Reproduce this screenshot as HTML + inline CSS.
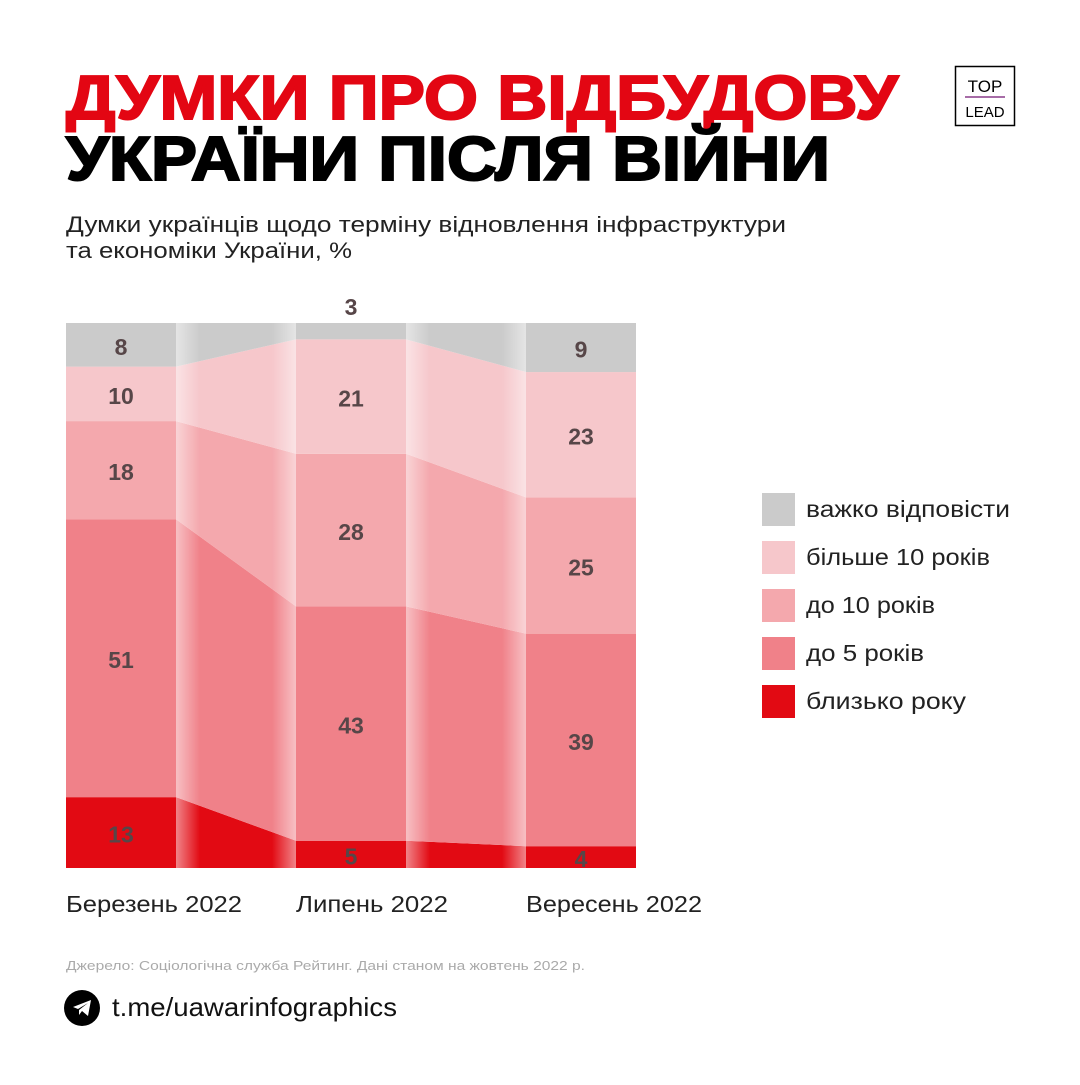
<!DOCTYPE html>
<html><head><meta charset="utf-8"><style>
body{margin:0;background:#fff;}
svg text{font-family:"Liberation Sans",sans-serif;}
</style></head><body>
<svg width="1080" height="1080" viewBox="0 0 1080 1080" xmlns="http://www.w3.org/2000/svg">
<defs>
<linearGradient id="shine" x1="0" x2="1" y1="0" y2="0">
<stop offset="0" stop-color="#fff" stop-opacity="0.5"/>
<stop offset="0.2" stop-color="#fff" stop-opacity="0"/>
<stop offset="0.8" stop-color="#fff" stop-opacity="0"/>
<stop offset="1" stop-color="#fff" stop-opacity="0.5"/>
</linearGradient>
</defs>
<text x="66" y="119" font-size="62" font-weight="900" fill="#e30613" textLength="832" lengthAdjust="spacingAndGlyphs" stroke="#e30613" stroke-width="2">ДУМКИ ПРО ВІДБУДОВУ</text>
<text x="66" y="180" font-size="62" font-weight="900" fill="#000" textLength="764" lengthAdjust="spacingAndGlyphs" stroke="#000" stroke-width="2">УКРАЇНИ ПІСЛЯ ВІЙНИ</text>
<g>
<rect x="955.5" y="66.5" width="59" height="59" fill="none" stroke="#000" stroke-width="1.5"/>
<text x="985" y="92" font-size="17" text-anchor="middle" fill="#000">TOP</text>
<line x1="965" y1="97" x2="1005" y2="97" stroke="#8a3c8a" stroke-width="1.5"/>
<text x="985" y="117" font-size="15" text-anchor="middle" fill="#000">LEAD</text>
</g>
<text x="66" y="232" font-size="22" fill="#222" textLength="720" lengthAdjust="spacingAndGlyphs">Думки українців щодо терміну відновлення інфраструктури</text>
<text x="66" y="258" font-size="22" fill="#222" textLength="286" lengthAdjust="spacingAndGlyphs">та економіки України, %</text>
<g id="chart"></g>
<g id="legend"></g>
<text x="66" y="970" font-size="13" fill="#aaa" textLength="519" lengthAdjust="spacingAndGlyphs">Джерело: Соціологічна служба Рейтинг. Дані станом на жовтень 2022 р.</text>
<g>
<circle cx="82" cy="1008" r="18" fill="#000"/>
<path d="M73 1007 L91 1000 L88 1016 L82 1011 L79 1015 L79 1010 L88 1003 L78 1009 Z" fill="#fff"/>
<text x="112" y="1016" font-size="26" fill="#111" textLength="285" lengthAdjust="spacingAndGlyphs">t.me/uawarinfographics</text>
</g>
</svg>
<script>
const categories=["Березень 2022","Липень 2022","Вересень 2022"];
const seriesNames=["близько року","до 5 років","до 10 років","більше 10 років","важко відповісти"];
const closeYear=[13,5,4];
const upTo5=[51,43,39];
const upTo10=[18,28,25];
const over10=[10,21,23];
const hardToSay=[8,3,9];
const series=[closeYear,upTo5,upTo10,over10,hardToSay];
const colors=["#e20a13","#f08189","#f4a8ad","#f6c7cb","#cbcbcb"];
const catLen=[176,152,176];
const legLen=[160,118,129,184,204];
const NS="http://www.w3.org/2000/svg";
const chart=document.getElementById('chart');
const top0=323,bot=868,barW=110,x0=66,step=230;
const y=v=>bot-(bot-top0)*v/100;
const xb=i=>x0+i*step;
function el(t,a,p){const e=document.createElementNS(NS,t);for(const k in a)e.setAttribute(k,a[k]);(p||chart).appendChild(e);return e;}
const cum=categories.map((c,i)=>{let s=0;return series.map(a=>{const b=s;s+=a[i];return [b,s];});});
for(let i=0;i<categories.length-1;i++){
 series.forEach((a,k)=>{
  const [b1,t1]=cum[i][k],[b2,t2]=cum[i+1][k];
  const xa=xb(i)+barW,xc=xb(i+1);
  const p=el('polygon',{points:`${xa},${y(b1)} ${xc},${y(b2)} ${xc},${y(t2)} ${xa},${y(t1)}`,fill:colors[k]});
  
  
 });
 const r=el('rect',{x:xb(i)+barW,y:top0,width:step-barW,height:bot-top0,fill:'url(#shine)'});
 
 
}
categories.forEach((c,i)=>{
 series.forEach((a,k)=>{
  const [b,t]=cum[i][k];
  const r=el('rect',{x:xb(i),y:y(t),width:barW,height:y(b)-y(t),fill:colors[k]});
  
  
  const small=a[i]<5;
  const ty=small&&k===series.length-1?y(t)-8:(y(b)+y(t))/2+10;
  const tx=el('text',{x:xb(i)+barW/2,y:ty,'font-size':23,'font-weight':'bold','text-anchor':'middle',fill:'#574648'});
  tx.textContent=a[i];
  
  
 });
 const l=el('text',{x:xb(i),y:912,'font-size':23,fill:'#222',textLength:catLen[i],lengthAdjust:'spacingAndGlyphs'});
 l.textContent=c;
 
 
});
const leg=document.getElementById('legend');
for(let k=series.length-1;k>=0;k--){
 const j=series.length-1-k;
 const yy=493+j*48;
 const r=el('rect',{x:762,y:yy,width:33,height:33,fill:colors[k]},leg);
 
 
 const t=el('text',{x:806,y:yy+24,'font-size':23,fill:'#222',textLength:legLen[k],lengthAdjust:'spacingAndGlyphs'},leg);
 t.textContent=seriesNames[k];
 
 
}
</script>
</body></html>
